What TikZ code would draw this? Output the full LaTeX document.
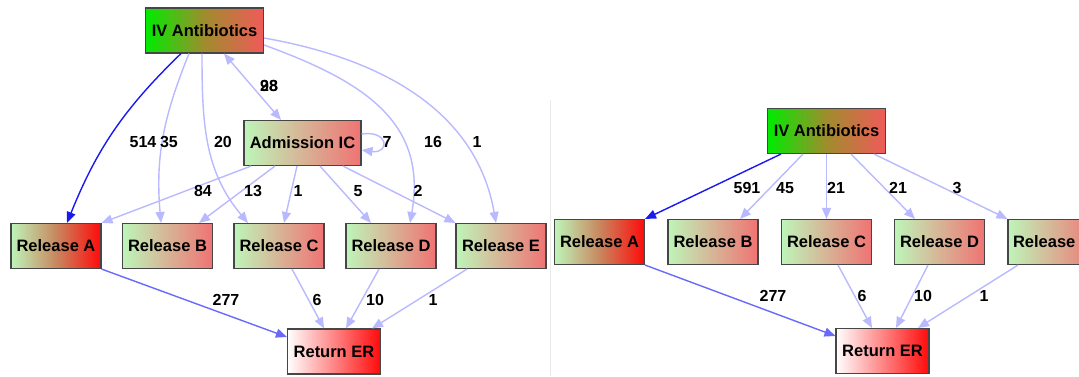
\documentclass[tikz,border=0pt]{standalone}
\usepackage{fontspec}
\setmainfont{Liberation Sans}
\usetikzlibrary{arrows.meta}
\definecolor{dlav}{RGB}{185,185,255}
\definecolor{dmid}{RGB}{105,105,250}
\definecolor{dblue}{RGB}{25,25,240}
\definecolor{dgreen}{RGB}{0,235,0}
\definecolor{dsalmon}{RGB}{240,90,90}
\definecolor{dolive}{RGB}{160,140,45}
\definecolor{dmint}{RGB}{190,245,185}
\definecolor{dpink}{RGB}{240,115,115}
\definecolor{dred}{RGB}{255,10,10}
\definecolor{dtan}{RGB}{200,135,95}
\definecolor{dedge}{RGB}{70,70,70}
\tikzset{
  >={Triangle[length=11pt,width=9pt]},
  dbox/.style={draw=dedge, line width=1.1pt, minimum height=45pt, inner sep=0pt,
               font=\fontsize{16.5}{18}\selectfont\bfseries},
  dstart/.style={dbox, minimum width=118pt,
                 left color=dgreen, right color=dsalmon, middle color=dolive},
  dadm/.style={dbox, minimum width=117pt,
               left color=dmint, right color=dpink},
  drel/.style={dbox, minimum width=90pt,
               left color=dmint, right color=dpink},
  dhot/.style={dbox, minimum width=90pt,
               left color=dmint, right color=dred, middle color=dtan},
  dend/.style={dbox, minimum width=93pt,
               left color=white, right color=dred},
  dlight/.style={->, dlav, line width=1.4pt},
  dstrong/.style={->, dblue, line width=1.4pt},
  dmedium/.style={->, dmid, line width=1.4pt},
  dnum/.style={inner sep=0pt, font=\fontsize{16}{18}\selectfont\bfseries},
}
\begin{document}
\begin{tikzpicture}[x=1pt,y=1pt]
  \useasboundingbox (0,0) rectangle (1079,-376);
  \clip (0,0) rectangle (1079,-376);

  % painel esquerdo
  \node[dstart] (ivL) at (204.5,-30.5) {IV Antibiotics};
  \node[dadm] (admL) at (302.5,-143) {Admission IC};
  \node[dhot] (relAL) at (56,-246) {Release A};
  \foreach \n/\x in {B/167.5,C/279,D/391,E/501}
    \node[drel] (rel\n L) at (\x,-246) {Release \n};
  \node[dend] (retL) at (334,-351.5) {Return ER};

  \draw[dstrong] ([xshift=-23.5]ivL.south) to[bend right=12] ([xshift=11]relAL.north);
  \draw[dlight] ([xshift=-15.5]ivL.south) to[out=-112,in=95] ([xshift=-6.5]relBL.north);
  \draw[dlight] ([xshift=-2.5]ivL.south) to[out=-90,in=130] ([xshift=-31]relCL.north);
  \draw[dlight] ([yshift=-14.5]ivL.east) to[out=-20,in=80,looseness=1.15] ([xshift=19]relDL.north);
  \draw[dlight] ([yshift=-7.5]ivL.east) to[out=-10,in=100] ([xshift=-5]relEL.north);
  \draw[dlight, <->] ([xshift=19.5]ivL.south) -- ([xshift=-21.5]admL.north);

  \draw[dlight] ([xshift=-51.5]admL.south) -- (relAL.north east);
  \draw[dlight] ([xshift=-27.5]admL.south) -- ([xshift=31.5]relBL.north);
  \draw[dlight] ([xshift=-5.5]admL.south) -- ([xshift=5]relCL.north);
  \draw[dlight] ([xshift=17.5]admL.south) -- ([xshift=-20]relDL.north);
  \draw[dlight] ([xshift=40.5]admL.south) -- (relEL.north west);
  \draw[dlight] ([yshift=9]admL.east) .. controls +(28,4) and +(28,-4) .. ([yshift=-7]admL.east);

  \draw[dmedium] (relAL.south east) -- ([yshift=14.5]retL.west);
  \draw[dlight] ([xshift=13]relCL.south) -- ([xshift=-10]retL.north);
  \draw[dlight] ([xshift=-12]relDL.south) -- ([xshift=12]retL.north);
  \draw[dlight] ([xshift=-34]relEL.south) -- ([xshift=38]retL.north);

  \node[dnum] (l514) at (143,-142) {514};
  \node[dnum] (l35) at (169,-142) {35};
  \node[dnum] (l20) at (223,-142) {20};
  \node[dnum] (l7) at (387,-142) {7};
  \node[dnum] (l16) at (433,-142) {16};
  \node[dnum] (l1a) at (477,-142) {1};
  \node[dnum] (l98) at (269,-86) {98};
  \node[dnum] (l28) at (269,-86) {28};
  \node[dnum] (l84) at (203,-191) {84};
  \node[dnum] (l13) at (253,-191) {13};
  \node[dnum] (l1b) at (298,-191) {1};
  \node[dnum] (l5) at (358,-191) {5};
  \node[dnum] (l2) at (418,-191) {2};
  \node[dnum] (l277a) at (226,-300) {277};
  \node[dnum] (l6a) at (317,-300) {6};
  \node[dnum] (l10a) at (375,-300) {10};
  \node[dnum] (l1c) at (433,-300) {1};

  % separador
  \draw[black!8, line width=1pt] (550,-100) -- (550,-376);

  % painel direito
  \node[dstart] (ivR) at (826.5,-131) {IV Antibiotics};
  \node[dhot] (relAR) at (599.5,-242) {Release A};
  \foreach \n/\x in {B/713,C/826.5,D/939.5}
    \node[drel] (rel\n R) at (\x,-242) {Release \n};
  \node[drel, text width=80pt] (relER) at (1053,-242) {Release};
  \node[dend] (retR) at (882.5,-351) {Return ER};

  \draw[dstrong] ([xshift=-45.5]ivR.south) -- (relAR.north east);
  \draw[dlight] ([xshift=-23.5]ivR.south) -- ([xshift=27]relBR.north);
  \draw[dlight] (ivR.south) -- (relCR.north);
  \draw[dlight] ([xshift=24.5]ivR.south) -- ([xshift=-24.5]relDR.north);
  \draw[dlight] ([xshift=47.5]ivR.south) -- (relER.north west);

  \draw[dmedium] (relAR.south east) -- ([yshift=15]retR.west);
  \draw[dlight] ([xshift=11.5]relCR.south) -- ([xshift=-10.5]retR.north);
  \draw[dlight] ([xshift=-11.5]relDR.south) -- ([xshift=13.5]retR.north);
  \draw[dlight] ([xshift=-35]relER.south) -- ([xshift=35.5]retR.north);

  \node[dnum] (r591) at (747,-188) {591};
  \node[dnum] (r45) at (785,-188) {45};
  \node[dnum] (r21a) at (836,-188) {21};
  \node[dnum] (r21b) at (898,-188) {21};
  \node[dnum] (r3) at (957,-188) {3};
  \node[dnum] (r277) at (773,-296) {277};
  \node[dnum] (r6) at (862,-296) {6};
  \node[dnum] (r10) at (923,-296) {10};
  \node[dnum] (r1) at (984,-296) {1};

\end{tikzpicture}
\end{document}
